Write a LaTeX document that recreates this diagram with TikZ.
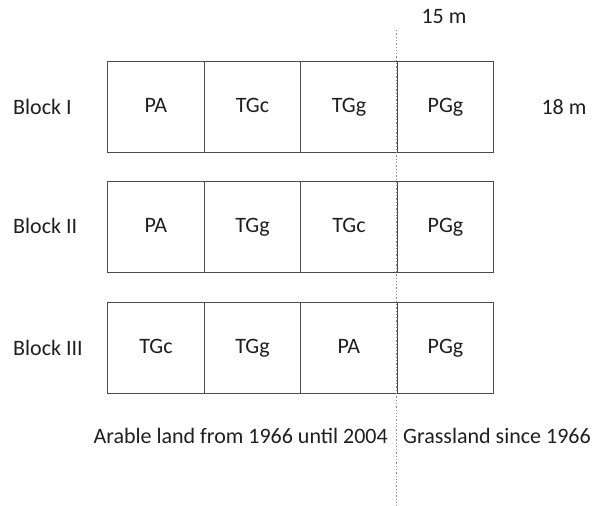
\documentclass[tikz,border=0pt]{standalone}
\usepackage{fontspec}
\setmainfont{Carlito}
\begin{document}
\begin{tikzpicture}[x=1pt,y=-1pt,
  txt/.style={text=black!88,font=\fontsize{22}{26}\selectfont,text height=15pt,text depth=4pt},
  cell/.style={txt,draw=black!70,line width=1.4pt,minimum width=96.5pt,minimum height=91pt,inner sep=0pt,anchor=north west},
  lbl/.style={txt,inner sep=0pt},
  divider/.style={draw=black!45,line width=1.3pt,dotted}]
\useasboundingbox (0,0) rectangle (592,506);
% Block I
\node[cell] (a1) at (107,61) {PA};
\node[cell] (a2) at (203.5,61) {TGc};
\node[cell] (a3) at (300,61) {TGg};
\node[cell] (a4) at (396.5,61) {PGg};
% Block II
\node[cell] (b1) at (107,181) {PA};
\node[cell] (b2) at (203.5,181) {TGg};
\node[cell] (b3) at (300,181) {TGc};
\node[cell] (b4) at (396.5,181) {PGg};
% Block III
\node[cell] (c1) at (107,301.5) {TGc};
\node[cell] (c2) at (203.5,301.5) {TGg};
\node[cell] (c3) at (300,301.5) {PA};
\node[cell] (c4) at (396.5,301.5) {PGg};
% labels
\node[lbl,anchor=west] (l1) at (13,109) {Block I};
\node[lbl,anchor=west] (l2) at (13,228) {Block II};
\node[lbl,anchor=west] (l3) at (13,350) {Block III};
\node[lbl] (w) at (444,18) {15 m};
\node[lbl] (h) at (564,109) {18 m};
\node[lbl,anchor=east] (ar) at (388,438) {Arable land from 1966 until 2004};
\node[lbl,anchor=west] (gr) at (403,438) {Grassland since 1966};
% dotted divider
\coordinate (dtop) at (396.5,30);
\coordinate (dbot) at (396.5,506);
\draw[divider] (dtop) -- (dbot);
\end{tikzpicture}
\end{document}
